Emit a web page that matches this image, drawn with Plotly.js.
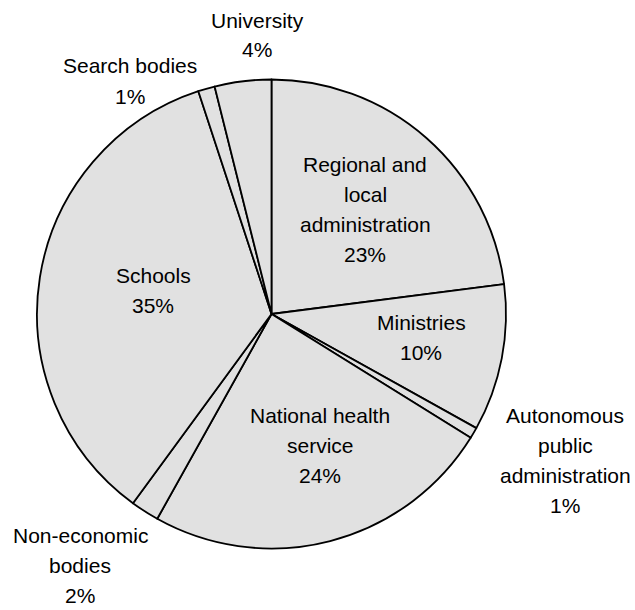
<!DOCTYPE html>
<html>
<head>
<meta charset="utf-8">
<script src="https://cdn.plot.ly/plotly-3.0.1.min.js"></script>
<style>html,body{margin:0;padding:0;background:#fff;}#chart{width:635px;height:610px;}</style>
</head>
<body>
<div id="chart"></div>
<script>
// Data (clockwise from 12 o'clock)
const categories = [
  'Regional and<br>local<br>administration',
  'Ministries',
  'Autonomous<br>public<br>administration',
  'National health<br>service',
  'Non-economic<br>bodies',
  'Schools',
  'Search bodies',
  'University'
];
const values = [22.97, 10.12, 0.76, 24.25, 1.96, 34.89, 1.15, 3.90];

// Label placement (pixel x centre, pixel baseline of first line)
const labelPos = [
  [365, 171.5],
  [421, 330],
  [565, 422.7],
  [320, 423],
  [80, 542.7],
  [153, 283],
  [130, 73.3],
  [257, 27.3]
];

const W = 635, H = 610;
const FONT = 'Liberation Sans, Arial, sans-serif';
const FS = 21;
const LINE = 30;

const total = values.reduce((a, b) => a + b, 0);
const annotations = [];
categories.forEach((cat, i) => {
  const lines = cat.split('<br>').concat([Math.round(values[i] / total * 100) + '%']);
  const [px, py] = labelPos[i];
  lines.forEach((t, k) => {
    const base = py + k * LINE;
    const cy = base - 7.3;
    annotations.push({
      text: t, xref: 'paper', yref: 'paper',
      x: px / W, y: 1 - cy / H, xanchor: 'center', yanchor: 'middle',
      showarrow: false, font: {family: FONT, size: FS, color: '#000'}
    });
  });
});

const trace = {
  type: 'pie',
  labels: categories,
  values: values,
  sort: false,
  direction: 'clockwise',
  rotation: 0,
  textinfo: 'none',
  hoverinfo: 'none',
  showlegend: false,
  marker: {colors: categories.map(() => '#e1e1e1'), line: {color: '#000', width: 1.8}},
  domain: {x: [37 / W, 506 / W], y: [1 - 548.5 / H, 1 - 79.5 / H]}
};

Plotly.newPlot('chart', [trace], {
  width: W, height: H,
  margin: {l: 0, r: 0, t: 0, b: 0},
  paper_bgcolor: '#fff', plot_bgcolor: '#fff',
  annotations: annotations,
  font: {family: FONT}
}, {staticPlot: true});
</script>
</body>
</html>
